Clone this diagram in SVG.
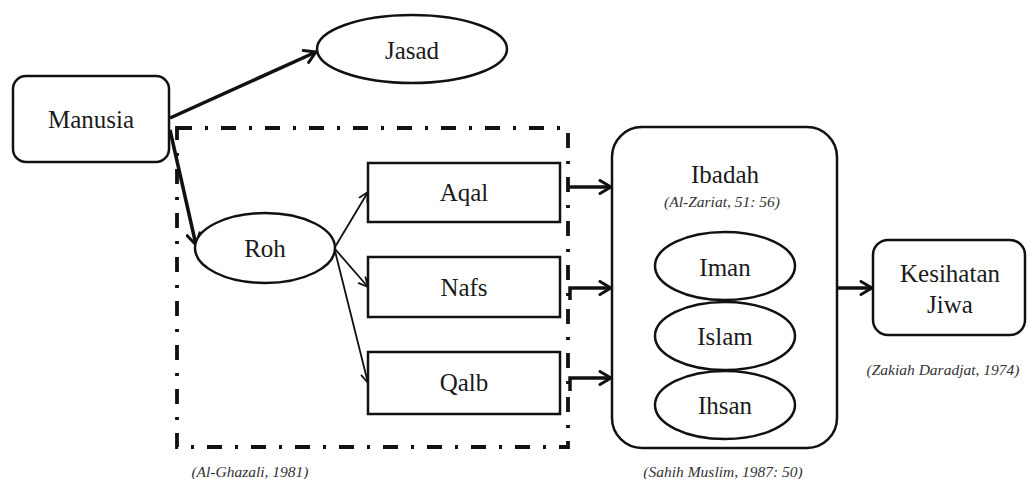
<svg xmlns="http://www.w3.org/2000/svg" width="1028" height="479" viewBox="0 0 1028 479">
<style>
.node{fill:#fff;stroke:#111;stroke-width:2.5}
.t{font-family:"Liberation Serif","Times New Roman",serif;font-size:25px;fill:#1a1a1a;text-anchor:middle}
.c{font-family:"Liberation Serif","Times New Roman",serif;font-size:15.5px;font-style:italic;fill:#333;text-anchor:middle}
.thick{fill:none;stroke:#111;stroke-width:3.5;marker-end:url(#ah)}
.thin{fill:none;stroke:#111;stroke-width:1.8;marker-end:url(#as)}
.dd{fill:none;stroke:#111;stroke-width:3.8;stroke-dasharray:15 13 3 13}
</style>
<defs>
<marker id="ah" viewBox="0 0 16 16" refX="14" refY="8" markerWidth="16" markerHeight="16" markerUnits="userSpaceOnUse" orient="auto">
<path d="M3,1.5 L14,8 L3,14.5" fill="none" stroke="#111" stroke-width="3" stroke-linecap="round" stroke-linejoin="round"/>
</marker>
<marker id="as" viewBox="0 0 12 12" refX="11" refY="6" markerWidth="12" markerHeight="12" markerUnits="userSpaceOnUse" orient="auto">
<path d="M2,1.5 L11,6 L2,10.5" fill="none" stroke="#111" stroke-width="1.8" stroke-linecap="round" stroke-linejoin="round"/>
</marker>
</defs>
<rect width="1028" height="479" fill="#fff"/>
<g id="frame">
<rect class="dd" x="177" y="128" width="391" height="319"/>
</g>
<g id="connectors">
<path class="thick" d="M170,118 L316,52"/>
<path class="thick" d="M170,130 L196,245"/>
<path class="thin" d="M335,247 L368,192"/>
<path class="thin" d="M335,249 L368,287"/>
<path class="thin" d="M335,251 L368,383"/>
<path class="thick" d="M569,187 L611,187"/>
<path class="thick" d="M570,300 V288 H611"/>
<path class="thick" d="M570,391 V378 H611"/>
<path class="thick" d="M837,288 L872,288"/>
</g>
<g id="manusia">
<rect class="node" x="13" y="76" width="156" height="86" rx="13"/>
<text class="t" x="91" y="128">Manusia</text>
</g>
<g id="jasad">
<ellipse class="node" cx="412" cy="49" rx="95" ry="34"/>
<text class="t" x="412" y="59">Jasad</text>
</g>
<g id="roh">
<ellipse class="node" cx="265" cy="248" rx="70" ry="35"/>
<text class="t" x="265" y="257">Roh</text>
</g>
<g id="aqal">
<rect class="node" x="368" y="163" width="192" height="59"/>
<text class="t" x="464" y="201">Aqal</text>
</g>
<g id="nafs">
<rect class="node" x="368" y="257" width="192" height="60"/>
<text class="t" x="464" y="296">Nafs</text>
</g>
<g id="qalb">
<rect class="node" x="368" y="352" width="192" height="62"/>
<text class="t" x="464" y="391">Qalb</text>
</g>
<g id="ibadah">
<rect class="node" x="612" y="127" width="225" height="321" rx="30"/>
<text class="t" x="725" y="183">Ibadah</text>
<text class="c" x="722" y="207">(Al-Zariat, 51: 56)</text>
</g>
<g id="iman">
<ellipse class="node" cx="725" cy="266" rx="70" ry="34"/>
<text class="t" x="725" y="276">Iman</text>
</g>
<g id="islam">
<ellipse class="node" cx="725" cy="336" rx="70" ry="34"/>
<text class="t" x="725" y="345">Islam</text>
</g>
<g id="ihsan">
<ellipse class="node" cx="725" cy="405" rx="70" ry="34"/>
<text class="t" x="725" y="414">Ihsan</text>
</g>
<g id="kesihatan">
<rect class="node" x="873" y="240" width="152" height="95" rx="15"/>
<text class="t" x="950" y="282">Kesihatan</text>
<text class="t" x="950" y="313">Jiwa</text>
</g>
<g id="citations">
<text class="c" x="943" y="375">(Zakiah Daradjat, 1974)</text>
<text class="c" x="250" y="477">(Al-Ghazali, 1981)</text>
<text class="c" x="723" y="477">(Sahih Muslim, 1987: 50)</text>
</g>
</svg>
